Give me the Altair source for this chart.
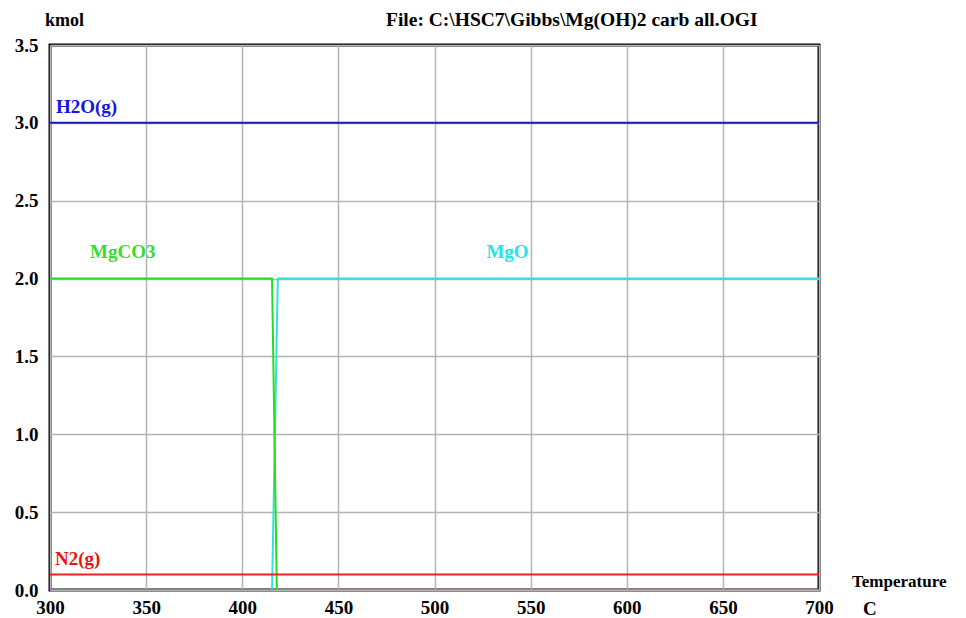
import altair as alt
import pandas as pd

# ---- data ----
h2o_T = [300, 700]
h2o_n = [3.0, 3.0]
n2_T = [300, 700]
n2_n = [0.1, 0.1]
mgco3_T = [300, 415.5, 418, 700]
mgco3_n = [2.0, 2.0, 0.0, 0.0]
mgo_T = [300, 415.5, 418.5, 700]
mgo_n = [0.0, 0.0, 2.0, 2.0]
mgoh2_T = [300, 700]
mgoh2_n = [0.0, 0.0]

species = ["MgO", "Mg(OH)2", "MgCO3", "H2O(g)", "N2(g)"]
line_colors = ["#33E0E0", "#22CC22", "#22DD22", "#1A1AB8", "#EE2222"]

label_names = ["H2O(g)", "MgCO3", "MgO", "N2(g)"]
label_T = [303.1, 320.8, 527.0, 302.6]
label_n = [3.063, 2.135, 2.135, 0.16]
label_colors = ["#1515E6", "#33DD33", "#22E5E5", "#EE1111"]

x_ticks = [300, 350, 400, 450, 500, 550, 600, 650, 700]
y_ticks = [0.0, 0.5, 1.0, 1.5, 2.0, 2.5, 3.0, 3.5]

FONT = "Liberation Serif"

xs = alt.Scale(domain=[300, 700], nice=False, zero=False)
ys = alt.Scale(domain=[0, 3.5], nice=False)

def series(name, T, n, color):
    df = pd.DataFrame({"T": T, "n": n, "species": name})
    return alt.Chart(df).mark_line(color=color, strokeWidth=2, clip=True).encode(
        x=alt.X("T:Q", scale=xs,
                axis=alt.Axis(values=x_ticks, title=None, grid=True, ticks=False,
                              domain=False, labelFont=FONT, labelFontWeight="bold",
                              labelFontSize=19, labelPadding=8, labelColor="#000000",
                              labelFlush=False, labelOverlap=False,
                              gridColor="#b4b4b4", gridWidth=1.5)),
        y=alt.Y("n:Q", scale=ys,
                axis=alt.Axis(values=y_ticks, format=".1f", title=None, grid=True,
                              ticks=False, domain=False, labelFont=FONT,
                              labelFontWeight="bold", labelFontSize=19,
                              labelPadding=12, labelColor="#000000",
                              labelFlush=False, labelOverlap=False,
                              gridColor="#b4b4b4", gridWidth=1.5)),
    )

layers = [
    series("MgO", mgo_T, mgo_n, line_colors[0]),
    series("Mg(OH)2", mgoh2_T, mgoh2_n, line_colors[1]),
    series("MgCO3", mgco3_T, mgco3_n, line_colors[2]),
    series("H2O(g)", h2o_T, h2o_n, line_colors[3]),
    series("N2(g)", n2_T, n2_n, line_colors[4]),
]

lab_df = pd.DataFrame({"name": label_names, "T": label_T, "n": label_n})
labels = alt.Chart(lab_df).mark_text(
    font=FONT, fontWeight="bold", fontSize=19, align="left", baseline="alphabetic"
).encode(
    x=alt.X("T:Q", scale=xs),
    y=alt.Y("n:Q", scale=ys),
    text="name:N",
    color=alt.Color("name:N", scale=alt.Scale(domain=label_names, range=label_colors),
                    legend=None),
)

def note(txt, x, y, size=19, baseline="alphabetic"):
    return alt.Chart(pd.DataFrame({"t": [txt]})).mark_text(
        font=FONT, fontWeight="bold", fontSize=size, align="left",
        baseline=baseline, color="#000000"
    ).encode(text="t:N", x=alt.value(x), y=alt.value(y))

notes = [
    note("kmol", -5, -19, 18),
    note("File: C:\\HSC7\\Gibbs\\Mg(OH)2 carb all.OGI", 336, -19, 19.5),
    note("Temperature", 802, 537, 17, "middle"),
    note("C", 813, 564, 19, "middle"),
]

chart = alt.layer(*layers, labels, *notes).properties(
    width=769, height=545,
    autosize=alt.AutoSizeParams(type="none"),
    padding={"left": 42, "top": 37, "right": 139, "bottom": 28},
    background="white",
).configure_view(stroke="#000000", strokeWidth=3)

chart.save("out.html", embed_options={"renderer": "svg", "actions": False})
